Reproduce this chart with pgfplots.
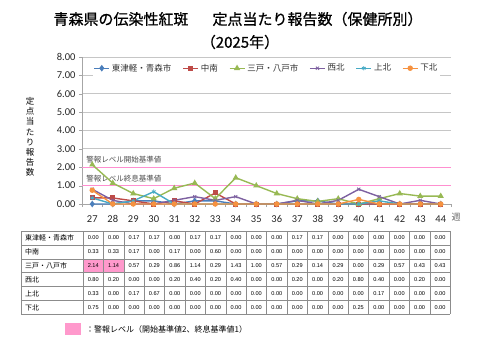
\documentclass[border=0pt]{standalone}
\usepackage{pgfplots}
\pgfplotsset{compat=1.18}
\usepackage{fontspec}
\setmainfont{Carlito}
\newfontfamily\jp{Noto Sans CJK JP}
\newfontfamily\jptitle[FakeBold=0.8]{Noto Sans CJK JP}
\newfontfamily\arial{Liberation Sans}
\definecolor{sBlue}{HTML}{4A7EBB}
\definecolor{sRed}{HTML}{BE4B48}
\definecolor{sGreen}{HTML}{98B954}
\definecolor{sPurple}{HTML}{7D60A0}
\definecolor{sCyan}{HTML}{46AAC5}
\definecolor{sOrange}{HTML}{F69240}
\definecolor{pinkline}{HTML}{FF8FD0}
\definecolor{cellpink}{HTML}{FF99CC}
\definecolor{tabline}{HTML}{8C8C8C}
\begin{document}
\begin{tikzpicture}
\path[use as bounding box] (0,0) rectangle (480bp,-360bp);
\begin{axis}[
  at={(82bp,-204bp)}, anchor=south west,
  scale only axis, width=369bp, height=147bp,
  xmin=26.5, xmax=44.5, ymin=0, ymax=8,
  xtick={27,...,44}, ytick={0,1,...,8},
  minor xtick={26.5,27.5,...,44.5},
  /pgf/number format/assume math mode=true,
  yticklabel style={/pgf/number format/.cd,fixed,fixed zerofill,precision=2},
  tick label style={font=\fontsize{10.5bp}{12bp}\selectfont, text=black!85},
  xticklabel style={yshift=-5bp},
  axis x line*=bottom, axis y line*=left,
  axis line style={gray!70},
  x axis line style={-}, y axis line style={-},
  ymajorgrids, grid style={gray!45, line width=0.8bp},
  major tick length=3bp, minor tick length=3bp,
  tick align=outside,
  xtick style={draw=none}, 
  minor x tick style={gray!70, draw=gray!70},
  ytick style={gray!70},
  legend style={at={(0.5,0.975)}, anchor=north, legend columns=6, draw=none, fill=white,
    font=\fontsize{8.5bp}{10bp}\selectfont\jp, text=black!80, inner sep=1bp,
    /tikz/every even column/.append style={column sep=9bp}},
  legend image code/.code={\draw[mark repeat=2,mark phase=2,#1] plot coordinates {(0bp,0bp) (7.5bp,0bp) (15bp,0bp)};},
  every axis plot/.append style={line width=1.4bp, mark size=2bp},
  clip=false,
]
\addplot[pinkline, line width=1.3bp, forget plot, mark=none] coordinates {(26.5,2) (44.5,2)};
\addplot[pinkline, line width=1.3bp, forget plot, mark=none] coordinates {(26.5,1) (44.5,1)};
\node[anchor=south west, font=\fontsize{7.5bp}{9bp}\selectfont\jp, text=black!70, inner sep=1bp] at (axis cs:26.65,2.15) {警報レベル開始基準値};
\node[anchor=south west, font=\fontsize{7.5bp}{9bp}\selectfont\jp, text=black!70, inner sep=1bp] at (axis cs:26.65,1.15) {警報レベル終息基準値};
\addplot[sBlue, mark=diamond*, mark size=2.2bp] coordinates {
(27,0.00)(28,0.00)(29,0.17)(30,0.17)(31,0.00)(32,0.17)(33,0.17)(34,0.00)(35,0.00)(36,0.00)(37,0.17)(38,0.17)(39,0.00)(40,0.00)(41,0.00)(42,0.00)(43,0.00)(44,0.00)};
\addlegendentry{東津軽・青森市}
\addplot[sRed, mark=square*, mark size=1.8bp] coordinates {
(27,0.33)(28,0.33)(29,0.17)(30,0.00)(31,0.17)(32,0.00)(33,0.60)(34,0.00)(35,0.00)(36,0.00)(37,0.00)(38,0.00)(39,0.00)(40,0.00)(41,0.00)(42,0.00)(43,0.00)(44,0.00)};
\addlegendentry{中南}
\addplot[sGreen, mark=triangle*, mark size=2.2bp] coordinates {
(27,2.14)(28,1.14)(29,0.57)(30,0.29)(31,0.86)(32,1.14)(33,0.29)(34,1.43)(35,1.00)(36,0.57)(37,0.29)(38,0.14)(39,0.29)(40,0.00)(41,0.29)(42,0.57)(43,0.43)(44,0.43)};
\addlegendentry{三戸・八戸市}
\addplot[sPurple, mark=x, mark size=2.2bp, mark options={line width=0.8bp}] coordinates {
(27,0.80)(28,0.20)(29,0.00)(30,0.00)(31,0.20)(32,0.40)(33,0.20)(34,0.40)(35,0.00)(36,0.00)(37,0.20)(38,0.00)(39,0.20)(40,0.80)(41,0.40)(42,0.00)(43,0.20)(44,0.00)};
\addlegendentry{西北}
\addplot[sCyan, mark=asterisk, mark size=2.2bp, mark options={line width=0.8bp}] coordinates {
(27,0.33)(28,0.00)(29,0.17)(30,0.67)(31,0.00)(32,0.00)(33,0.00)(34,0.00)(35,0.00)(36,0.00)(37,0.00)(38,0.00)(39,0.00)(40,0.00)(41,0.17)(42,0.00)(43,0.00)(44,0.00)};
\addlegendentry{上北}
\addplot[sOrange, mark=*, mark size=2bp] coordinates {
(27,0.75)(28,0.00)(29,0.00)(30,0.00)(31,0.00)(32,0.00)(33,0.00)(34,0.00)(35,0.00)(36,0.00)(37,0.00)(38,0.00)(39,0.00)(40,0.25)(41,0.00)(42,0.00)(43,0.00)(44,0.00)};
\addlegendentry{下北}
\end{axis}
\begin{scope}[x=1bp,y=-1bp]
% title
\node[font=\fontsize{15bp}{18bp}\selectfont\jptitle] at (238,19) {青森県の伝染性紅斑\hspace{1.6em}定点当たり報告数（保健所別）};
\node[font=\fontsize{15bp}{18bp}\selectfont\jptitle] at (240,42) {（2025年）};
% y label
\node[font=\fontsize{8.5bp}{10.2bp}\selectfont\jp, align=center, inner sep=0pt] at (30,137) {定\\点\\当\\た\\り\\報\\告\\数};
% week
\node[font=\fontsize{9bp}{10bp}\selectfont\jp, text=black!60] at (456,217) {週};
% table
\fill[cellpink] (83,258.8) rectangle (123.8,272.7);
\foreach \j in {0,...,6} \draw[tabline, line width=0.6bp] (21,{231+13.9*\j}) -- (450.2,{231+13.9*\j});
\draw[tabline, line width=0.6bp] (21,231) -- (21,314.4);
\foreach \k in {0,...,18} \draw[tabline, line width=0.6bp] ({83+20.4*\k},231) -- ({83+20.4*\k},314.4);
\foreach \lab [count=\j from 0] in {東津軽・青森市,中南,三戸・八戸市,西北,上北,下北}
  \node[anchor=west, font=\fontsize{7bp}{8bp}\selectfont\jp, inner sep=0pt] at (25,{238+13.9*\j}) {\lab};
\def\tf{\fontsize{5.6bp}{6.5bp}\selectfont\arial}
\foreach \v [count=\k from 0] in {0.00,0.00,0.17,0.17,0.00,0.17,0.17,0.00,0.00,0.00,0.17,0.17,0.00,0.00,0.00,0.00,0.00,0.00}
  \node[font=\tf, inner sep=0pt] at ({93.2+20.4*\k},238) {\v};
\foreach \v [count=\k from 0] in {0.33,0.33,0.17,0.00,0.17,0.00,0.60,0.00,0.00,0.00,0.00,0.00,0.00,0.00,0.00,0.00,0.00,0.00}
  \node[font=\tf, inner sep=0pt] at ({93.2+20.4*\k},251.9) {\v};
\foreach \v [count=\k from 0] in {2.14,1.14,0.57,0.29,0.86,1.14,0.29,1.43,1.00,0.57,0.29,0.14,0.29,0.00,0.29,0.57,0.43,0.43}
  \node[font=\tf, inner sep=0pt] at ({93.2+20.4*\k},265.8) {\v};
\foreach \v [count=\k from 0] in {0.80,0.20,0.00,0.00,0.20,0.40,0.20,0.40,0.00,0.00,0.20,0.00,0.20,0.80,0.40,0.00,0.20,0.00}
  \node[font=\tf, inner sep=0pt] at ({93.2+20.4*\k},279.7) {\v};
\foreach \v [count=\k from 0] in {0.33,0.00,0.17,0.67,0.00,0.00,0.00,0.00,0.00,0.00,0.00,0.00,0.00,0.00,0.17,0.00,0.00,0.00}
  \node[font=\tf, inner sep=0pt] at ({93.2+20.4*\k},293.6) {\v};
\foreach \v [count=\k from 0] in {0.75,0.00,0.00,0.00,0.00,0.00,0.00,0.00,0.00,0.00,0.00,0.00,0.00,0.25,0.00,0.00,0.00,0.00}
  \node[font=\tf, inner sep=0pt] at ({93.2+20.4*\k},307.5) {\v};
% bottom legend
\fill[cellpink] (65,323) rectangle (81,335);
\node[anchor=west, font=\fontsize{8bp}{9bp}\selectfont\jp, inner sep=0pt] at (86,329) {：警報レベル（開始基準値2、終息基準値1）};
\end{scope}
\end{tikzpicture}
\end{document}
